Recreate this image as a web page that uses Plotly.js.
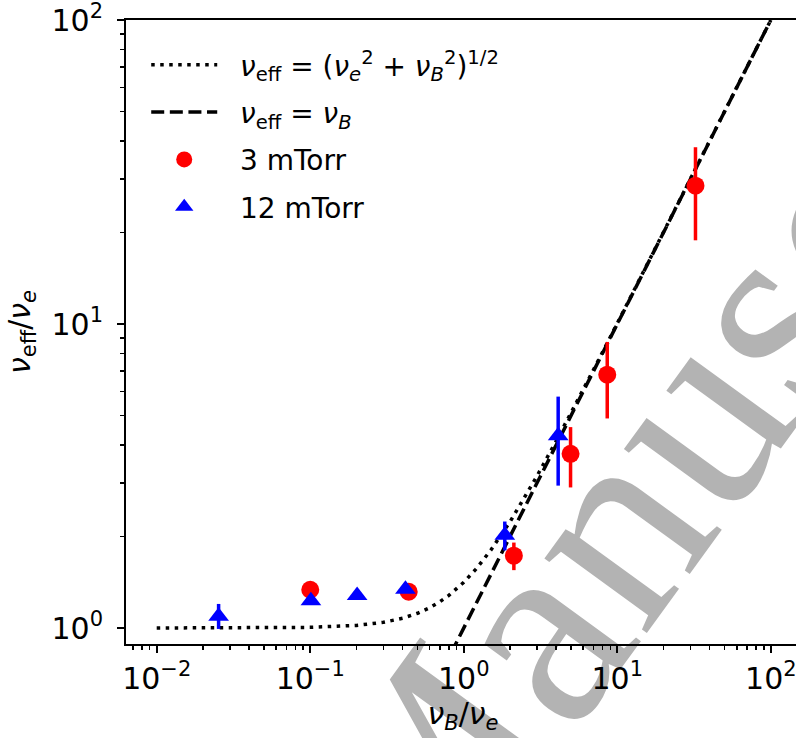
<!DOCTYPE html>
<html>
<head>
<meta charset="utf-8">
<script src="https://cdn.plot.ly/plotly-3.0.1.min.js"></script>
<style>
html,body{margin:0;padding:0;background:#ffffff;overflow:hidden;width:796px;height:738px;position:relative}
#wm{position:absolute;left:0;top:0;font-family:"Liberation Serif",serif;font-size:276px;line-height:1;color:#b3b3b3;white-space:nowrap;transform-origin:0 0;transform:translate(240px,800px) rotate(-54deg);}
#plot{position:absolute;left:0;top:0;width:804px;height:738px}
</style>
</head>
<body>
<div id="wm">Manuscript</div>
<div id="plot"></div>
<script>
// Model curve nu_eff = (nu_e^2 + nu_B^2)^(1/2), tabulated values
var modelX = [0.01, 0.03, 0.1, 0.2, 0.3, 0.4, 0.5, 0.6, 0.7, 0.8, 0.9, 1.0, 1.2, 1.5, 2.0, 2.5, 3.0, 4.0, 5.0, 7.0, 10, 30, 100];
var modelY = [1.00005, 1.00045, 1.005, 1.0198, 1.044, 1.077, 1.118, 1.1662, 1.2207, 1.2806, 1.3454, 1.4142, 1.562, 1.8028, 2.2361, 2.6926, 3.1623, 4.1231, 5.099, 7.0711, 10.05, 30.017, 100.005];
// nu_eff = nu_B
var limitX = [0.5, 1, 10, 100];
var limitY = [0.5, 1, 10, 100];

// 3 mTorr
var x3 = [0.1, 0.438, 2.12, 4.96, 8.6, 32.3];
var y3 = [1.336, 1.316, 1.73, 3.74, 6.81, 28.5];
var e3 = [0, 0, 0.18, 0.84, 1.92, 9.65];

// 12 mTorr
var x12 = [0.0253, 0.101, 0.202, 0.417, 1.85, 4.12];
var y12 = [1.093, 1.23, 1.28, 1.34, 2.02, 4.29];
var e12up = [0.107, 0, 0, 0, 0.22, 1.48];
var e12dn = [0.10, 0, 0, 0, 0.22, 1.35];

var xTickVals = [0.01, 0.1, 1, 10, 100];
var xTickText = ['10<sup>\u22122</sup>', '10<sup>\u22121</sup>', '10<sup>0</sup>', '10<sup>1</sup>', '10<sup>2</sup>'];
var yTickVals = [1, 10, 100];
var yTickText = ['10<sup>0</sup>', '10<sup>1</sup>', '10<sup>2</sup>'];

var SP = '\u00a0\u00a0';
var names = [
  SP + '<i>\u03bd</i><sub>eff</sub> = (<i>\u03bd</i><sub><i>e</i></sub><sup>2</sup> + <i>\u03bd</i><sub><i>B</i></sub><sup>2</sup>)<sup>1/2</sup>',
  SP + '<i>\u03bd</i><sub>eff</sub> = <i>\u03bd</i><sub><i>B</i></sub>',
  SP + '3 mTorr',
  SP + '12 mTorr'
];

function minorTicks(lo, hi) {
  var out = [];
  for (var d = lo; d <= hi; d++) {
    for (var k = 2; k <= 9; k++) out.push(k * Math.pow(10, d));
  }
  return out;
}

var FONT = 'DejaVu Sans';

var traces = [
  {x: modelX, y: modelY, mode: 'lines', name: names[0], legendgroup: 'a',
   line: {color: '#000000', width: 3.5, dash: '3.5px,5.5px'}},
  {x: limitX, y: limitY, mode: 'lines', name: names[1], legendgroup: 'b',
   line: {color: '#000000', width: 3.5, dash: '13px,5.6px'}},
  {x: x3, y: y3, mode: 'markers', name: names[2], legendgroup: 'c',
   marker: {symbol: 'circle', size: 18, color: '#ff0000'},
   error_y: {type: 'data', array: e3, visible: true, color: '#ff0000', thickness: 3.5, width: 0}},
  {x: x12, y: y12, mode: 'markers', name: names[3], legendgroup: 'd',
   marker: {symbol: 'triangle-up', size: 18, color: '#0000ff'},
   error_y: {type: 'data', array: e12up, arrayminus: e12dn, visible: true, color: '#0000ff', thickness: 3.5, width: 0}}
];

var layout = {
  width: 804, height: 738,
  margin: {l: 126, r: 4, t: 20, b: 94},
  paper_bgcolor: 'rgba(0,0,0,0)',
  plot_bgcolor: 'rgba(0,0,0,0)',
  font: {family: FONT, color: '#000000', size: 28},
  showlegend: true,
  legend: {x: 0.03, y: 0.968, xanchor: 'left', yanchor: 'top', bgcolor: 'rgba(0,0,0,0)',
           font: {family: FONT, size: 28, color: '#000000'}, itemwidth: 66,
           traceorder: 'grouped', tracegroupgap: 8},
  xaxis: {
    type: 'log', range: [-2.2, 2.19],
    showline: true, linecolor: '#000000', linewidth: 2, mirror: true,
    ticks: 'outside', ticklen: 7, tickwidth: 2, tickcolor: '#000000',
    tickmode: 'array', tickvals: xTickVals, ticktext: xTickText,
    tickfont: {family: FONT, size: 30, color: '#000000'},
    ticklabeloverflow: 'allow',
    showgrid: false, zeroline: false,
    minor: {ticks: 'outside', ticklen: 4, tickwidth: 1.5, tickcolor: '#000000', tickmode: 'array', tickvals: minorTicks(-3, 2), showgrid: false},
    title: {text: '<i>\u03bd</i><sub><i>B</i></sub>/<i>\u03bd</i><sub><i>e</i></sub>', font: {family: FONT, size: 30, color: '#000000'}, standoff: 8}
  },
  yaxis: {
    type: 'log', range: [-0.0526, 2.0],
    showline: true, linecolor: '#000000', linewidth: 2, mirror: true,
    ticks: 'outside', ticklen: 7, tickwidth: 2, tickcolor: '#000000',
    tickmode: 'array', tickvals: yTickVals, ticktext: yTickText,
    tickfont: {family: FONT, size: 30, color: '#000000'},
    ticklabelstandoff: 8,
    ticklabeloverflow: 'allow',
    showgrid: false, zeroline: false,
    minor: {ticks: 'outside', ticklen: 4, tickwidth: 1.5, tickcolor: '#000000', tickmode: 'array', tickvals: minorTicks(0, 1), showgrid: false},
    title: {text: '<i>\u03bd</i><sub>eff</sub>/<i>\u03bd</i><sub><i>e</i></sub>', font: {family: FONT, size: 30, color: '#000000'}, standoff: 12}
  }
};

Plotly.newPlot('plot', traces, layout, {displayModeBar: false, staticPlot: true});
</script>
</body>
</html>
